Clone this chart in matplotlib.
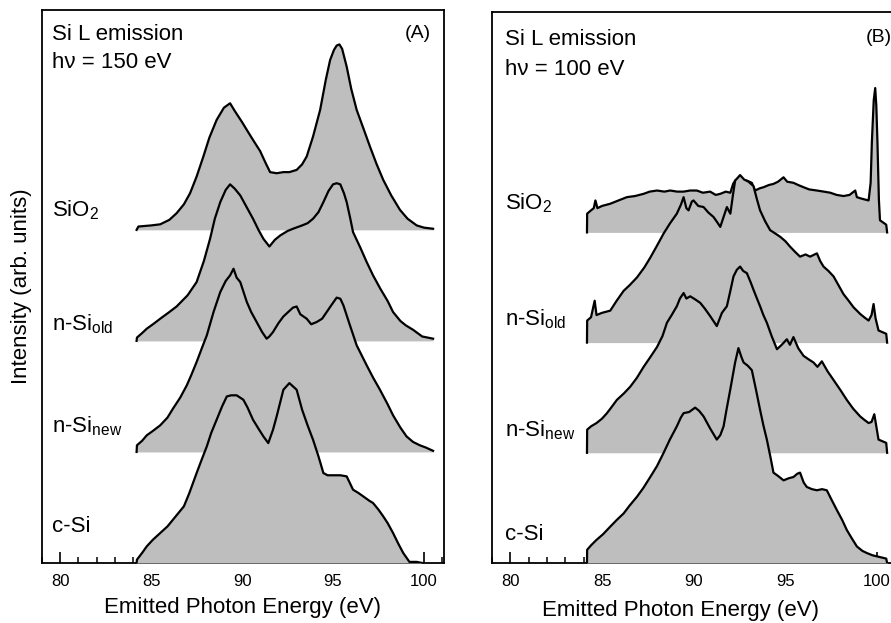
import numpy as np
import matplotlib
matplotlib.use("Agg")
import matplotlib.pyplot as plt
from matplotlib.ticker import MultipleLocator

plt.rcParams['font.family'] = ['Liberation Sans', 'DejaVu Sans']
plt.rcParams['mathtext.fontset'] = 'custom'
plt.rcParams['mathtext.rm'] = 'Liberation Sans'
plt.rcParams['mathtext.default'] = 'regular'

# ---- panel A: hv = 150 eV (energy in eV, intensity in arb. units) ----
a_sio2_e = [84.2, 84.3, 85.0, 85.5, 86.0, 86.4, 86.8, 87.14, 87.5, 87.87, 88.2, 88.6, 89.0, 89.34,
            89.6, 90.0, 90.26, 90.6, 90.99, 91.3, 91.54, 91.9, 92.27, 92.6, 93.0, 93.3, 93.55, 93.9,
            94.29, 94.6, 94.84, 95.05, 95.2, 95.35, 95.5, 95.75, 96.0, 96.3, 96.7, 97.03, 97.4,
            97.76, 98.2, 98.68, 99.1, 99.6, 100.0, 100.5]
a_sio2_i = [0.0, 0.03, 0.04, 0.05, 0.09, 0.15, 0.23, 0.33, 0.48, 0.66, 0.83, 0.99, 1.10, 1.14,
            1.07, 0.97, 0.90, 0.81, 0.71, 0.60, 0.52, 0.51, 0.52, 0.52, 0.54, 0.59, 0.66, 0.84,
            1.08, 1.35, 1.53, 1.62, 1.66, 1.67, 1.63, 1.47, 1.27, 1.08, 0.90, 0.75, 0.59,
            0.45, 0.31, 0.18, 0.10, 0.04, 0.02, 0.01]

a_old_e = [84.2, 84.22, 84.5, 84.76, 85.1, 85.5, 86.0, 86.4, 87.0, 87.5, 87.9, 88.24, 88.5, 88.8,
           89.1, 89.34, 89.6, 89.9, 90.2, 90.6, 90.9, 91.17, 91.5, 91.8, 92.1, 92.5, 92.8, 93.3,
           93.6, 93.9, 94.2, 94.47, 94.75, 95.0, 95.2, 95.4, 95.6, 95.75, 95.95, 96.1, 96.5,
           96.85, 97.2, 97.6, 98.0, 98.3, 98.7, 99.0, 99.4, 99.9, 100.2, 100.5]
a_old_i = [0.0, 0.03, 0.07, 0.11, 0.15, 0.20, 0.26, 0.31, 0.41, 0.53, 0.72, 0.92, 1.10, 1.25,
           1.36, 1.41, 1.37, 1.31, 1.22, 1.10, 1.00, 0.92, 0.85, 0.91, 0.95, 0.99, 1.01, 1.04,
           1.06, 1.10, 1.16, 1.25, 1.35, 1.41, 1.42, 1.41, 1.33, 1.25, 1.10, 0.98, 0.84,
           0.71, 0.59, 0.47, 0.36, 0.26, 0.18, 0.14, 0.10, 0.04, 0.03, 0.02]

a_new_e = [84.2, 84.22, 84.5, 84.76, 85.1, 85.5, 85.9, 86.2, 86.6, 86.96, 87.2, 87.5, 87.8, 88.06,
           88.43, 88.8, 89.1, 89.34, 89.53, 89.7, 89.9, 90.1, 90.26, 90.5, 90.8, 91.1, 91.35,
           91.5, 91.7, 92.0, 92.27, 92.6, 92.8, 93.0, 93.2, 93.55, 93.8, 94.1, 94.4, 94.65, 94.9,
           95.2, 95.4, 95.57, 95.75, 95.93, 96.3, 96.85, 97.2, 97.58, 98.0, 98.3, 98.7, 99.04,
           99.4, 99.77, 100.1, 100.5]
a_new_i = [0.0, 0.06, 0.10, 0.15, 0.19, 0.24, 0.31, 0.39, 0.49, 0.60, 0.69, 0.81, 0.94, 1.05,
           1.26, 1.44, 1.54, 1.59, 1.65, 1.57, 1.53, 1.43, 1.35, 1.26, 1.17, 1.08, 1.02,
           1.04, 1.08, 1.16, 1.22, 1.27, 1.30, 1.31, 1.24, 1.20, 1.15, 1.17, 1.20, 1.26, 1.32,
           1.39, 1.38, 1.32, 1.23, 1.14, 0.96, 0.78, 0.67, 0.56, 0.43, 0.33, 0.22, 0.14,
           0.09, 0.06, 0.04, 0.01]

a_csi_e = [84.2, 84.22, 84.5, 84.76, 85.1, 85.5, 85.9, 86.2, 86.5, 86.8, 87.1, 87.5, 87.8, 88.06,
           88.3, 88.6, 88.9, 89.16, 89.4, 89.7, 90.07, 90.3, 90.6, 90.9, 91.17, 91.44, 91.7,
           91.9, 92.1, 92.27, 92.6, 93.0, 93.15, 93.3, 93.6, 93.9, 94.2, 94.47, 94.7, 95.0,
           95.4, 95.75, 96.1, 96.4, 96.66, 97.0, 97.2, 97.5, 97.76, 98.0, 98.3, 98.6, 98.86,
           99.2, 99.6, 99.9]
a_csi_i = [0.0, 0.03, 0.09, 0.15, 0.21, 0.27, 0.33, 0.39, 0.45, 0.51, 0.63, 0.81, 0.94, 1.05,
           1.17, 1.29, 1.41, 1.50, 1.51, 1.51, 1.47, 1.40, 1.29, 1.21, 1.14, 1.08, 1.20,
           1.32, 1.45, 1.56, 1.62, 1.56, 1.47, 1.38, 1.24, 1.11, 0.96, 0.81, 0.79, 0.79,
           0.79, 0.78, 0.66, 0.63, 0.60, 0.56, 0.54, 0.48, 0.42, 0.36, 0.27, 0.17, 0.09,
           0.01, 0.01, 0.0]

# ---- panel B: hv = 100 eV ----
b_sio2_e = [84.18, 84.19, 84.4, 84.55, 84.64, 84.75, 85.0, 85.45, 85.9, 86.36, 86.8, 87.27, 87.6,
            88.0, 88.4, 88.72, 89.1, 89.45, 89.8, 90.17, 90.5, 90.9, 91.2, 91.45, 91.75, 92.0,
            92.15, 92.26, 92.53, 92.7, 92.9, 93.17, 93.35, 93.6, 93.81, 94.1, 94.35, 94.6, 94.9,
            95.1, 95.44, 95.7, 95.99, 96.3, 96.72, 97.1, 97.45, 97.8, 98.17, 98.5, 98.81, 98.9,
            99.08, 99.3, 99.54, 99.65, 99.72, 99.82, 99.9, 99.96, 100.02, 100.1, 100.16, 100.5,
            100.55]
b_sio2_i = [0.0, 0.17, 0.20, 0.22, 0.29, 0.22, 0.24, 0.26, 0.29, 0.32, 0.33, 0.35, 0.37,
            0.38, 0.37, 0.38, 0.37, 0.37, 0.38, 0.38, 0.36, 0.37, 0.34, 0.35, 0.37, 0.36,
            0.44, 0.47, 0.50, 0.47, 0.47, 0.45, 0.38, 0.40, 0.41, 0.43, 0.44, 0.46, 0.50,
            0.46, 0.45, 0.43, 0.41, 0.39, 0.38, 0.37, 0.36, 0.34, 0.33, 0.34, 0.38, 0.32,
            0.31, 0.30, 0.29, 0.45, 0.83, 1.20, 1.31, 1.15, 0.83, 0.30, 0.11, 0.07,
            0.0]

b_old_e = [84.18, 84.19, 84.4, 84.6, 84.7, 85.0, 85.45, 85.8, 86.18, 86.5, 86.9, 87.3, 87.63, 88.0,
           88.36, 88.7, 89.08, 89.3, 89.45, 89.6, 89.72, 89.9, 89.99, 90.25, 90.54, 90.8, 91.08,
           91.25, 91.45, 91.65, 91.81, 92.0, 92.15, 92.26, 92.53, 92.75, 92.99, 93.26, 93.45,
           93.62, 93.9, 94.17, 94.45, 94.72, 95.0, 95.26, 95.55, 95.8, 96.1, 96.35, 96.72, 96.9,
           97.08, 97.35, 97.63, 97.9, 98.17, 98.45, 98.72, 99.08, 99.3, 99.54, 99.7, 99.81,
           99.92, 100.08, 100.5, 100.55]
b_old_i = [0.0, 0.20, 0.23, 0.38, 0.25, 0.27, 0.29, 0.38, 0.47, 0.52, 0.59, 0.68, 0.77, 0.88,
           0.99, 1.08, 1.17, 1.25, 1.32, 1.22, 1.20, 1.28, 1.29, 1.24, 1.23, 1.18, 1.14,
           1.10, 1.05, 1.15, 1.23, 1.17, 1.35, 1.47, 1.52, 1.48, 1.46, 1.42, 1.30,
           1.20, 1.10, 1.02, 0.99, 0.96, 0.92, 0.87, 0.82, 0.78, 0.80, 0.78, 0.81, 0.74,
           0.69, 0.65, 0.60, 0.52, 0.44, 0.38, 0.32, 0.26, 0.23, 0.20, 0.25, 0.35,
           0.22, 0.11, 0.08, 0.0]

b_new_e = [84.18, 84.19, 84.4, 84.7, 85.0, 85.27, 85.5, 85.81, 86.2, 86.54, 86.9, 87.27, 87.6, 88.0,
           88.3, 88.54, 88.8, 89.08, 89.25, 89.45, 89.6, 89.81, 90.1, 90.36, 90.6, 90.9, 91.1,
           91.26, 91.54, 91.81, 92.0, 92.17, 92.35, 92.53, 92.7, 92.9, 93.1, 93.26, 93.45, 93.62,
           93.8, 93.99, 94.25, 94.54, 94.8, 95.08, 95.25, 95.44, 95.7, 95.99, 96.25, 96.53, 96.75,
           96.99, 97.3, 97.63, 98.0, 98.35, 98.7, 99.08, 99.3, 99.54, 99.7, 99.85, 99.95, 100.08,
           100.5, 100.55]
b_new_i = [0.0, 0.21, 0.24, 0.27, 0.31, 0.36, 0.41, 0.48, 0.54, 0.60, 0.68, 0.78, 0.86, 0.96,
           1.06, 1.18, 1.25, 1.33, 1.40, 1.45, 1.40, 1.42, 1.39, 1.36, 1.31, 1.24, 1.19,
           1.15, 1.27, 1.33, 1.47, 1.60, 1.66, 1.69, 1.65, 1.63, 1.55, 1.48, 1.40, 1.33,
           1.25, 1.18, 1.06, 0.94, 0.98, 1.03, 0.98, 1.05, 0.95, 0.88, 0.85, 0.82, 0.78,
           0.83, 0.74, 0.66, 0.57, 0.48, 0.40, 0.33, 0.30, 0.27, 0.28, 0.35, 0.25, 0.12,
           0.09, 0.0]

b_csi_e = [84.18, 84.19, 84.4, 84.7, 85.05, 85.45, 85.8, 86.18, 86.5, 86.9, 87.25, 87.63, 88.0,
           88.36, 88.7, 89.08, 89.3, 89.45, 89.75, 90.08, 90.3, 90.54, 90.9, 91.26, 91.45, 91.63,
           91.8, 91.99, 92.26, 92.44, 92.6, 92.72, 92.95, 93.17, 93.4, 93.62, 93.8, 93.99, 94.2,
           94.35, 94.6, 94.9, 95.2, 95.44, 95.65, 95.8, 96.0, 96.17, 96.45, 96.72, 97.0, 97.26,
           97.5, 97.81, 98.1, 98.35, 98.6, 98.9, 99.2, 99.45, 99.75, 100.0, 100.5, 100.55]
b_csi_i = [0.0, 0.12, 0.16, 0.21, 0.26, 0.33, 0.39, 0.45, 0.52, 0.60, 0.68, 0.78, 0.88,
           1.00, 1.12, 1.24, 1.32, 1.36, 1.37, 1.41, 1.38, 1.33, 1.22, 1.12, 1.16, 1.24,
           1.40, 1.57, 1.82, 1.95, 1.87, 1.82, 1.79, 1.75, 1.57, 1.39, 1.25, 1.12, 0.95,
           0.82, 0.79, 0.75, 0.77, 0.78, 0.81, 0.82, 0.73, 0.69, 0.67, 0.66, 0.67, 0.66,
           0.58, 0.48, 0.39, 0.30, 0.23, 0.15, 0.11, 0.09, 0.07, 0.06, 0.04, 0.0]

labels = ['SiO$_2$', 'n-Si$_{old}$', 'n-Si$_{new}$', 'c-Si']
offsets = [3.0, 2.0, 1.0, 0.0]
panel_a = [(a_sio2_e, a_sio2_i), (a_old_e, a_old_i), (a_new_e, a_new_i), (a_csi_e, a_csi_i)]
panel_b = [(b_sio2_e, b_sio2_i), (b_old_e, b_old_i), (b_new_e, b_new_i), (b_csi_e, b_csi_i)]

fill_col = '#bebebe'

fig = plt.figure(figsize=(8.91, 6.23), dpi=100)
ax_a = fig.add_axes([42 / 891, 60 / 623, 402 / 891, 553 / 623])
ax_b = fig.add_axes([492 / 891, 60 / 623, 401 / 891, 551 / 623])


def draw_panel(ax, spectra, xlim, ylim, hv, tag, title_y, lab_y, lab_x):
    for k, ((e, i), off) in enumerate(zip(spectra, offsets)):
        e = np.asarray(e)
        y = np.asarray(i) + off
        ax.fill_between(e, off, y, color=fill_col, lw=0, zorder=2 + 2 * k)
        ax.plot(e, y, color='black', lw=1.6, solid_joinstyle='round', zorder=3 + 2 * k)
    ax.set_xlim(*xlim)
    ax.set_ylim(*ylim)
    ax.set_yticks([])
    ax.xaxis.set_major_locator(MultipleLocator(5))
    ax.xaxis.set_minor_locator(MultipleLocator(1))
    ax.tick_params(axis='x', which='major', direction='in', length=8, width=1.2,
                   labelsize=12, pad=8, top=False)
    ax.tick_params(axis='x', which='minor', direction='in', length=4.5, width=1.1, top=False)
    for s in ax.spines.values():
        s.set_linewidth(1.3)
    ax.set_xlabel('Emitted Photon Energy (eV)', fontsize=16)
    ax.text(lab_x, title_y[0], 'Si L emission', transform=ax.transAxes, fontsize=16,
            va='baseline', ha='left')
    ax.text(lab_x, title_y[1], 'h\u03bd = %d eV' % hv, transform=ax.transAxes, fontsize=16,
            va='baseline', ha='left')
    ax.text(title_y[2], title_y[3], tag, transform=ax.transAxes, fontsize=14,
            va='baseline', ha='right')
    for lab, ly in zip(labels, lab_y):
        ax.text(lab_x, ly, lab, transform=ax.transAxes, fontsize=16, va='baseline',
                ha='left', zorder=20)


draw_panel(ax_a, panel_a, (79.0, 101.1), (0, 4.98), 150, '(A)',
           (0.946, 0.895, 0.968, 0.949), (0.626, 0.421, 0.237, 0.056), 0.025)
draw_panel(ax_b, panel_b, (79.0, 100.87), (0, 5.0), 100, '(B)',
           (0.940, 0.886, 0.998, 0.946), (0.641, 0.432, 0.229, 0.042), 0.032)

ax_a.set_ylabel('Intensity (arb. units)', fontsize=16)
ax_a.yaxis.set_label_coords(-0.024, 0.5)
ax_a.xaxis.set_label_coords(0.5, -0.062)
ax_b.xaxis.set_label_coords(0.469, -0.068)

fig.savefig('out.png', dpi=100)
